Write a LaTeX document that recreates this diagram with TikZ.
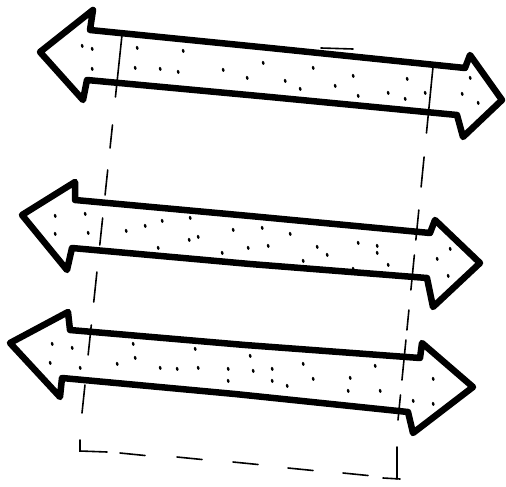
\documentclass[tikz,border=0pt]{standalone}
\begin{document}
\begin{tikzpicture}[x=1pt,y=-1pt,
  arrowshape/.style={draw=black,fill=white,line width=6.5pt,line join=round},
  guide/.style={draw=black,line width=1.6pt,line cap=round},
  speck/.style={draw=black,line width=2.4pt,line cap=round}]
\useasboundingbox (0,0) rectangle (506,487);
% arrows
\path[arrowshape] (40,52) -- (93,10) -- (90,30) -- (270,48) -- (465,68) -- (470,55) -- (502,100) -- (463,137) -- (457,115) -- (270,97) -- (87,80) -- (83,100) -- cycle;
\path[arrowshape] (22,215) -- (75,182) -- (75,200) -- (250,216) -- (430,233) -- (435,220) -- (480,263) -- (433,307) -- (427,278) -- (250,264) -- (72,248) -- (67,270) -- cycle;
\path[arrowshape] (10,343) -- (68,312) -- (70,330) -- (245,345) -- (420,358) -- (422,343) -- (473,387) -- (413,433) -- (408,412) -- (235,394) -- (62,378) -- (60,397) -- cycle;
% specks
\foreach \x/\y in {82/45,92/48,137/47,183/50,92/68,135/67,160/68,178/71,223/69,247/77,263/62,285/80,300/88,313/67,335/85,353/75,358/95,388/92,407/78,405/98,425/92,470/77,462/93,478/102,
55/215,85/213,55/233,88/232,126/230,145/225,162/220,190/217,189/239,198/236,158/247,222/252,233/229,248/247,262/227,268/245,290/233,303/260,317/246,327/254,342/225,353/268,358/242,377/245,377/252,388/264,437/258,450/248,448/275,
52/343,72/347,50/362,80/367,117/363,135/357,133/343,160/367,177/368,198/367,195/348,228/368,228/380,250/355,253/370,272/368,272/380,287/385,303/363,313/378,350/377,348/390,375/365,380/390,433/378,413/400,433/403}
  \path[speck] (\x,\y) -- ++(0.4,1.8);
% left guide
\foreach \a/\b in {35/97,125/148,170/195,218/245,272/302,325/355,385/413}
  \path[guide] ({122-40*(\a-35)/378},\a) -- ({122-40*(\b-35)/378},\b);
% right guide
\foreach \a/\b in {67/133,157/187,210/240,255/290,310/330,340/380,395/420}
  \path[guide] ({433-35*(\a-67)/353},\a) -- ({433-35*(\b-67)/353},\b);
% bracket
\path[guide] (80,440) -- (80,451) -- (107,452);
\foreach \p/\q in {120/453,177/457,233/462,288/468,343/473}
  \path[guide] (\p,\q) -- ++(25,2.5);
\path[guide] (383,478) -- (400,479);
\path[guide] (397,447) -- (397,479);
% small stroke above top arrow
\path[guide] (321,48) -- (353,49);
\end{tikzpicture}
\end{document}
